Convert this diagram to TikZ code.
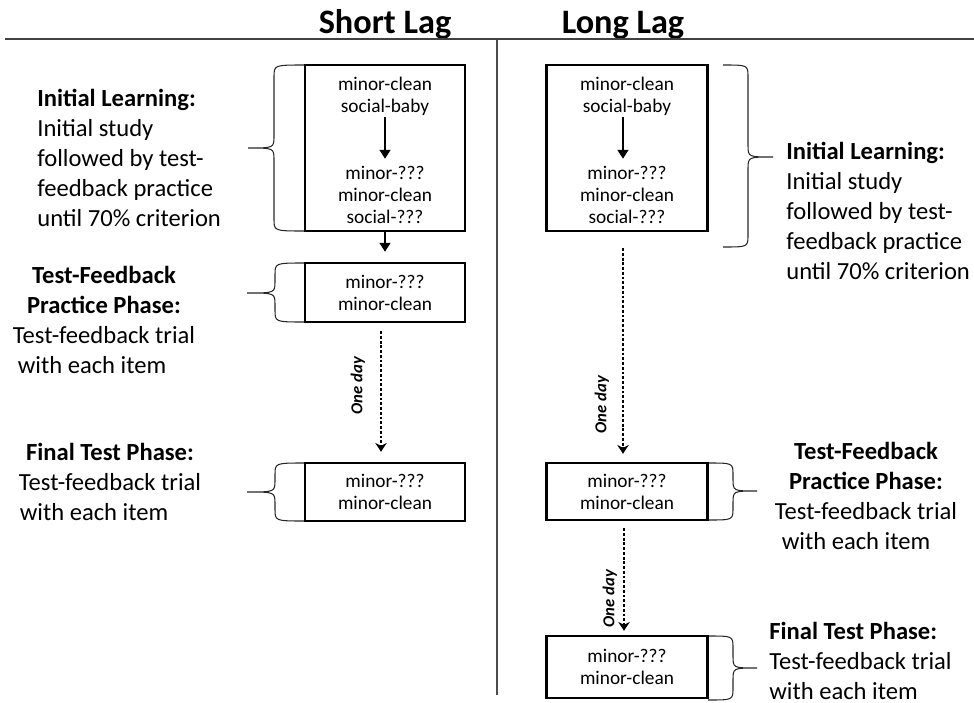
\documentclass[tikz,border=0pt]{standalone}
\usepackage{fontspec}
\setmainfont{Carlito}
\usetikzlibrary{arrows.meta}

\tikzset{
  itembox/.style={draw=black, line width=1.4pt, minimum width=3.2cm, align=center,
    font=\fontsize{11}{12.6}\selectfont, inner sep=0pt},
  pairtext/.style={align=center, font=\fontsize{11}{12.6}\selectfont, inner sep=0pt},
  phasetext/.style={font=\fontsize{14}{17}\selectfont, inner sep=0pt},
  lagtitle/.style={font=\fontsize{19.5}{22}\selectfont\bfseries, inner sep=0pt},
  steparrow/.style={line width=1.4pt, -{Triangle[length=5pt,width=6pt]}},
  dayline/.style={line width=1.6pt, dash pattern=on 1.6pt off 1.1pt},
  daytip/.style={line width=1.4pt, -{Stealth[length=5pt,width=6.5pt]}},
  daylabel/.style={rotate=90, anchor=south, font=\fontsize{9.5}{11}\selectfont\bfseries\itshape, inner sep=0pt},
  bracelines/.style={draw=black!85, line width=0.6pt},
}

% #1 end x, #2 spine x, #3 tip x, #4 top y, #5 tip y, #6 bottom y
\newcommand{\phasebrace}[6]{%
  \draw[bracelines] (#1,#4) .. controls (#2,#4) .. (#2,#4+12) -- (#2,#5-12)
    .. controls (#2,#5) .. (#3,#5) .. controls (#2,#5) .. (#2,#5+12)
    -- (#2,#6-12) .. controls (#2,#6) .. (#1,#6);}

\begin{document}
\begin{tikzpicture}[x=0.02cm, y=-0.02cm]
  \useasboundingbox (0,0) rectangle (974,703);

  % headings and rules
  \node[lagtitle, anchor=base] (short) at (385,33) {Short Lag};
  \node[lagtitle, anchor=base] (long) at (623,33) {Long Lag};
  \draw[black!75, line width=0.9pt] (5,39) -- (974,39);
  \draw[black!70, line width=1pt] (497,40) -- (497,695);

  % braces
  \phasebrace{305}{274}{248}{65}{148}{231}
  \phasebrace{305}{275}{247}{263}{293}{322}
  \phasebrace{305}{275}{247}{463}{492}{521}
  \phasebrace{723}{748}{773}{65}{157}{247}
  \phasebrace{708}{733}{757}{463}{491}{520}
  \phasebrace{708}{733}{757}{636}{668}{700}

  % short lag
  \node[itembox, minimum height=3.32cm] (L1) at (385,148) {};
  \node[pairtext] (L1a) at (385,96) {minor-clean\\social-baby};
  \node[pairtext] (L1b) at (385,195) {minor-???\\minor-clean\\social-???};
  \draw[steparrow, shorten <=1pt, shorten >=4pt] (L1a) -- (L1b);
  \node[itembox, minimum height=1.18cm] (L2) at (385,292.5) {minor-???\\minor-clean};
  \node[itembox, minimum height=1.16cm] (L3) at (385,492) {minor-???\\minor-clean};
  \draw[steparrow, shorten >=0.2cm] (L1) -- (L2);
  \draw[dayline] ([xshift=-0.08cm,yshift=-0.16cm]L2.south) --
    node[daylabel, pos=0.47, outer sep=0.32cm] {One day} ([xshift=-0.08cm,yshift=0.3cm]L3.north);
  \draw[daytip] ([xshift=-0.08cm,yshift=0.32cm]L3.north) -- ([xshift=-0.08cm,yshift=0.2cm]L3.north);

  % long lag
  \node[itembox, minimum width=3.22cm, minimum height=3.32cm] (R1) at (627,148) {};
  \node[pairtext] (R1a) at (627,96) {minor-clean\\social-baby};
  \node[pairtext] (R1b) at (627,195) {minor-???\\minor-clean\\social-???};
  \draw[steparrow, shorten <=1pt, shorten >=4pt] ([xshift=-0.08cm]R1a.south) -- ([xshift=-0.08cm]R1b.north);
  \node[itembox, minimum width=3.22cm, minimum height=1.14cm] (R2) at (627,491.5) {minor-???\\minor-clean};
  \node[itembox, minimum width=3.22cm, minimum height=1.24cm] (R3) at (627,667) {minor-???\\minor-clean};
  \draw[dayline] ([xshift=-0.08cm,yshift=-0.32cm]R1.south) --
    node[daylabel, pos=0.78, outer sep=0.28cm] {One day} ([xshift=-0.08cm,yshift=0.26cm]R2.north);
  \draw[daytip] ([xshift=-0.08cm,yshift=0.28cm]R2.north) -- ([xshift=-0.08cm,yshift=0.16cm]R2.north);
  \draw[dayline] ([xshift=-0.06cm,yshift=-0.14cm]R2.south) --
    node[daylabel, pos=0.72, outer sep=0.14cm] {One day} ([xshift=-0.06cm,yshift=0.18cm]R3.north);
  \draw[daytip] ([xshift=-0.06cm,yshift=0.2cm]R3.north) -- ([xshift=-0.06cm,yshift=0.08cm]R3.north);

  % phase notes
  \node[phasetext, align=left, anchor=west] (L1note) at (37,158)
    {\textbf{Initial Learning:}\\Initial study\\followed by test-\\feedback practice\\until 70\% criterion};
  \node[phasetext, align=center] (L2note) at (104,320)
    {\textbf{Test-Feedback}\\\textbf{Practice Phase:}\\Test-feedback trial\\with each item\kern0.48cm};
  \node[phasetext, align=center] (L3note) at (110,482)
    {\textbf{Final Test Phase:}\\Test-feedback trial\\with each item\kern0.64cm};
  \node[phasetext, align=left, anchor=west] (R1note) at (786,211)
    {\textbf{Initial Learning:}\\Initial study\\followed by test-\\feedback practice\\until 70\% criterion};
  \node[phasetext, align=center] (R2note) at (866,496)
    {\textbf{Test-Feedback}\\\textbf{Practice Phase:}\\Test-feedback trial\\with each item\kern0.4cm};
  \node[phasetext, align=left, anchor=west] (R3note) at (769,661)
    {\textbf{Final Test Phase:}\\Test-feedback trial\\with each item};
\end{tikzpicture}
\end{document}
